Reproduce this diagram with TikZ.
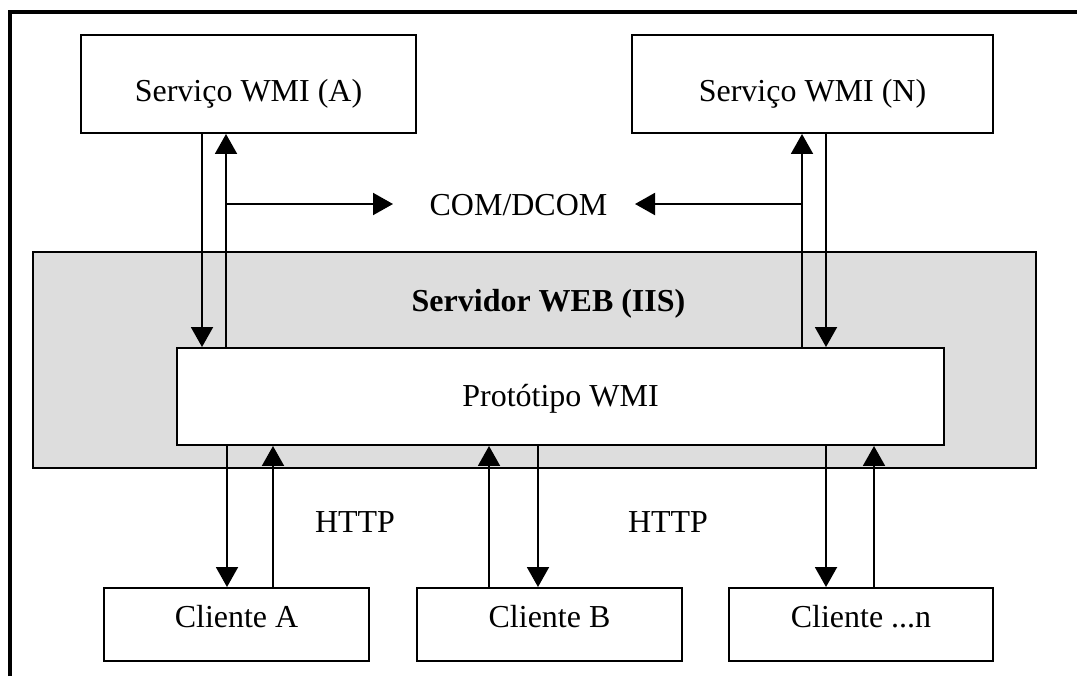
\documentclass[tikz,border=0pt]{standalone}
\usepackage{fontspec}
\setmainfont{Liberation Serif}
\usetikzlibrary{arrows.meta, positioning}
\definecolor{servergray}{RGB}{221, 221, 221}
\newcommand{\diagfont}{\fontsize{18.2}{22}\selectfont}

\begin{document}
\begin{tikzpicture}[
        x=0.02cm, y=-0.02cm,
        font=\diagfont,
        box/.style={rectangle, draw=black, line width=0.04cm, fill=white, inner sep=0pt, align=center},
        svcbox/.style={box, minimum height=1.96cm, text height=0.8cm, text depth=0.1cm},
        protobox/.style={box, minimum width=15.34cm, minimum height=1.94cm, text height=0.5cm, text depth=0.1cm},
        clientbox/.style={box, minimum width=5.3cm, minimum height=1.46cm, text height=0.5cm, text depth=0.4cm},
        serverbox/.style={rectangle, draw=black, line width=0.04cm, fill=servergray, minimum width=20.06cm, minimum height=4.32cm},
        lbl/.style={inner sep=0pt, text height=0.5cm, text depth=0.1cm},
        arrow/.style={-{Triangle[length=0.4cm, width=0.44cm]}, line width=0.04cm},
        frame/.style={line width=0.065cm}
    ]
        \useasboundingbox (0,0) rectangle (1077,676);
        \draw [frame] (10,676) -- (10,12) -- (1077,12);

        % Services
        \node (svcA) [svcbox, minimum width=6.7cm] at (248.5,84) {Serviço WMI (A)};
        \node (svcN) [svcbox, minimum width=7.22cm] at (812.5,84) {Serviço WMI (N)};
        \node (com) [lbl] at (518.5,205) {COM/DCOM};
        \coordinate (comL) at (393,204);
        \coordinate (comR) at (635,204);

        % Web server
        \node (server) [serverbox] at (534.5,360) {};
        \node (srvtitle) [lbl, font=\diagfont\bfseries] at (548.5,301.5) {Servidor WEB (IIS)};
        \node (proto) [protobox] at (560.5,396.5) {Protótipo WMI};

        % Clients
        \node (cliA) [clientbox] at (236.5,624.5) {Cliente A};
        \node (cliB) [clientbox] at (549.5,624.5) {Cliente B};
        \node (cliN) [clientbox] at (861,624.5) {Cliente ...n};
        \node (httpA) [lbl] at (355,522) {HTTP};
        \node (httpB) [lbl] at (668,522) {HTTP};

        % Service connectors
        \draw [arrow] ([xshift=-0.93cm]svcA.south) -- ([xshift=-0.93cm]svcA.south |- proto.north);
        \draw [arrow] ([xshift=-0.45cm]svcA.south |- proto.north) -- ([xshift=-0.45cm]svcA.south);
        \draw [arrow] ([xshift=-0.45cm]svcA.south |- comL) -- (comL);
        \draw [arrow] ([xshift=-0.21cm]svcN.south |- proto.north) -- ([xshift=-0.21cm]svcN.south);
        \draw [arrow] ([xshift=0.27cm]svcN.south) -- ([xshift=0.27cm]svcN.south |- proto.north);
        \draw [arrow] ([xshift=-0.21cm]svcN.south |- comR) -- (comR);

        % Client connectors
        \draw [arrow] ([xshift=-0.19cm]cliA.north |- proto.south) -- ([xshift=-0.19cm]cliA.north);
        \draw [arrow] ([xshift=0.73cm]cliA.north) -- ([xshift=0.73cm]cliA.north |- proto.south);
        \draw [arrow] ([xshift=-1.21cm]cliB.north) -- ([xshift=-1.21cm]cliB.north |- proto.south);
        \draw [arrow] ([xshift=-0.23cm]cliB.north |- proto.south) -- ([xshift=-0.23cm]cliB.north);
        \draw [arrow] ([xshift=-0.7cm]cliN.north |- proto.south) -- ([xshift=-0.7cm]cliN.north);
        \draw [arrow] ([xshift=0.26cm]cliN.north) -- ([xshift=0.26cm]cliN.north |- proto.south);
    \end{tikzpicture}
\end{document}
